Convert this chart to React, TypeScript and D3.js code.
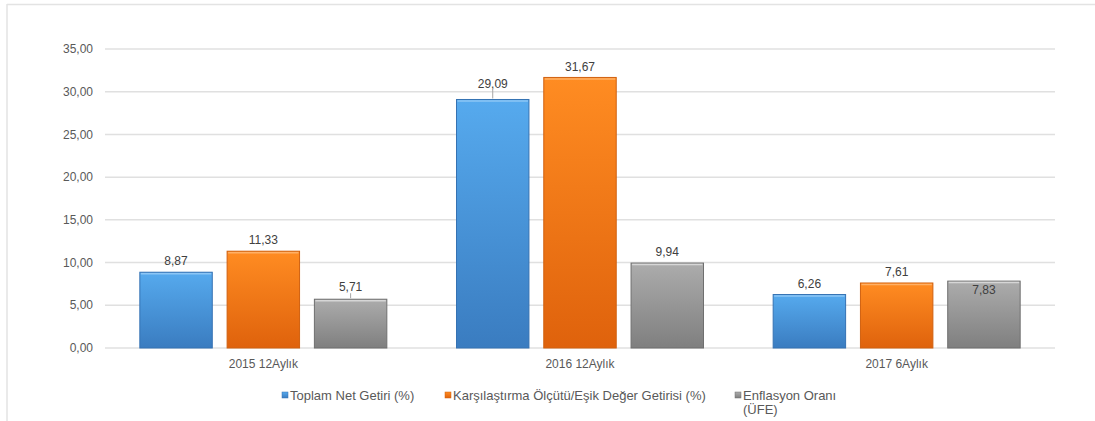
import React from "react";
import * as d3 from "d3";

const categories = ["2015 12Aylık", "2016 12Aylık", "2017 6Aylık"];
const seriesNames = ["Toplam Net Getiri (%)", "Karşılaştırma Ölçütü/Eşik Değer Getirisi (%)", "Enflasyon Oranı (ÜFE)"];
const toplamNet = [8.87, 29.09, 6.26];
const karsilastirma = [11.33, 31.67, 7.61];
const enflasyon = [5.71, 9.94, 7.83];
const yTicks = [0, 5, 10, 15, 20, 25, 30, 35];

const W = 1095, H = 421;
const plot = { left: 105, right: 1055, top: 49, bottom: 348 };

const colors = [
  { top: "#56aaee", bot: "#3a7cc0", edge: "#3572b3", hi: "#8cc6f5" },
  { top: "#ff8c22", bot: "#df620c", edge: "#d0600f", hi: "#ffb066" },
  { top: "#acacac", bot: "#7f7f7f", edge: "#6f6f6f", hi: "#d6d6d6" },
];

// label placement tweaks: extra offset above bar (px), or inside
const labelExtra = [
  [0, 0, 1],
  [5, 0, 0],
  [0, 0, -1],
];

const fmt = (v: number) => v.toFixed(2).replace(".", ",");

export default function App() {
  const series = [toplamNet, karsilastirma, enflasyon];
  const y = d3.scaleLinear().domain([0, 35]).range([plot.bottom, plot.top]);
  const x0 = d3.scaleBand<string>().domain(categories).range([plot.left, plot.right]).paddingInner(0.22).paddingOuter(0.11);
  const x1 = d3.scaleBand<number>().domain([0, 1, 2]).range([0, x0.bandwidth()]).paddingInner(0.17);
  const font = "'Liberation Sans', Arial, sans-serif";
  const legendX = [282, 445, 735];

  return (
    <svg width={W} height={H} style={{ position: "absolute", left: 0, top: 0 }} fontFamily={font}>
      <defs>
        {colors.map((c, i) => (
          <linearGradient key={i} id={`g${i}`} x1="0" y1="0" x2="0" y2="1">
            <stop offset="0" stopColor={c.top} />
            <stop offset="1" stopColor={c.bot} />
          </linearGradient>
        ))}
      </defs>
      <rect x={0} y={0} width={W} height={H} fill="#fff" />
      <line x1={7} x2={W} y1={4.5} y2={4.5} stroke="#e3e3e3" strokeWidth={1.5} />
      <line x1={7} x2={7} y1={4} y2={H} stroke="#e3e3e3" strokeWidth={1.5} />
      {yTicks.map((t) => (
        <g key={t}>
          <line x1={plot.left} x2={plot.right} y1={y(t)} y2={y(t)} stroke="#e0e0e0" strokeWidth={1.5} />
          <text x={93} y={y(t)} dy="0.35em" textAnchor="end" fontSize={12} fill="#595959">{fmt(t)}</text>
        </g>
      ))}
      {categories.map((cat, ci) => (
        <g key={cat} transform={`translate(${x0(cat)},0)`}>
          {series.map((s, si) => {
            const v = s[ci];
            const bx = x1(si)!;
            const bw = x1.bandwidth();
            const top = y(v);
            const extra = labelExtra[ci][si];
            const inside = extra < 0;
            const ly = inside ? top + 9 : top - 11 - extra;
            return (
              <g key={si}>
                <rect x={bx} y={top} width={bw} height={plot.bottom - top} fill={`url(#g${si})`} stroke={colors[si].edge} strokeWidth={1} />
                <line x1={bx + 1} x2={bx + bw - 1} y1={top + 1.5} y2={top + 1.5} stroke={colors[si].hi} strokeWidth={1.5} />
                {!inside && extra > 0 && (
                  <line x1={bx + bw / 2} x2={bx + bw / 2} y1={ly + 6} y2={top - 1} stroke="#a6a6a6" strokeWidth={1} />
                )}
                <text x={bx + bw / 2} y={ly} dy="0.35em" textAnchor="middle" fontSize={12} fill="#404040">{fmt(v)}</text>
              </g>
            );
          })}
          <text x={x0.bandwidth() / 2} y={364} dy="0.35em" textAnchor="middle" fontSize={12} fill="#595959">{cat}</text>
        </g>
      ))}
      {seriesNames.map((n, i) => {
        const lx = legendX[i];
        const lines = i === 2 ? ["Enflasyon Oranı", "(ÜFE)"] : [n];
        return (
          <g key={n}>
            <rect x={lx} y={392} width={6} height={6} fill={`url(#g${i})`} stroke={colors[i].edge} strokeWidth={0.5} />
            {lines.map((t, k) => (
              <text key={k} x={lx + 8} y={395.5 + k * 14} dy="0.35em" fontSize={13} fill="#595959">{t}</text>
            ))}
          </g>
        );
      })}
    </svg>
  );
}
